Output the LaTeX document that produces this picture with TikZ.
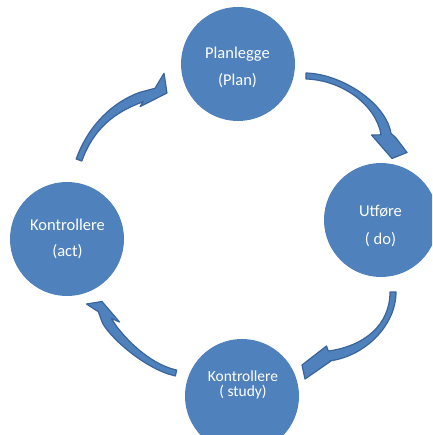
\documentclass[tikz,border=0pt]{standalone}
\usepackage{fontspec}
\setmainfont{Carlito}
\usetikzlibrary{calc}
\definecolor{cblue}{HTML}{4F81BD}
\definecolor{adark}{HTML}{3A649A}
% #1 P0, #2 P1, #3 P2, #4 P3 (centre line of the shaft),
% #5 inner barb, #6 tip, #7 outer barb, #8 outer junction
\newcommand\myblockarrow[8]{%
  \filldraw[arrowbody]
    ($(#1)!3pt!-90:(#2)$) .. controls ($(#2)!3pt!90:(#1)$) and ($(#3)!5pt!-90:(#4)$) ..
    ($(#4)!5pt!90:(#3)$) -- (#5) -- (#6) -- (#7) -- (#8) --
    ($(#4)!5pt!-90:(#3)$) .. controls ($(#3)!5pt!90:(#4)$) and ($(#2)!3pt!-90:(#1)$) ..
    ($(#1)!3pt!90:(#2)$) -- cycle;
}
\begin{document}
\begin{tikzpicture}[x=1pt,y=-1pt,
  circ/.style={circle, fill=cblue, minimum size=114pt, inner sep=0pt},
  txt/.style={text=white, font=\fontsize{16.5}{20}\selectfont, anchor=base, inner sep=0pt},
  smalltxt/.style={txt, font=\fontsize{15.5}{18}\selectfont},
  arrowbody/.style={fill=cblue, draw=adark, line width=1.2pt, line join=round}]
\clip (0,0) rectangle (432,435);
\fill[white] (0,0) rectangle (432,435);
% circles
\node[circ] (plan)  at (238,64)  {};
\node[circ] (do)    at (381,220) {};
\node[circ] (study) at (242,396) {};
\node[circ] (act)   at (67,239)  {};
% texts
\node[txt] (planA)  at (237.5,59)  {Planlegge};
\node[txt] (planB)  at (237.5,86)  {(Plan)};
\node[txt] (doA)    at (380.5,216) {Utføre};
\node[txt] (doB)    at (380.5,244) {( do)};
\node[smalltxt] (studyA) at (243,381.5) {Kontrollere};
\node[smalltxt] (studyB) at (243,396.5) {( study)};
\node[txt] (actA)   at (67.5,230)  {Kontrollere};
\node[txt] (actB)   at (67.5,256)  {(act)};
% curved block arrows
\myblockarrow{306,76}{342,77}{381,104}{386,134}{371.5,135}{392,158.5}{407,152.5}{396,138}
\myblockarrow{393,292}{393,325}{365,351}{329,356}{326.5,346}{302,365}{305,379}{331,361}
\myblockarrow{176,373}{148,367}{117,338}{107,321}{119.5,322}{102,301.5}{86.5,304}{98.3,311.7}
\myblockarrow{79,160}{91,127}{113.4,107.2}{141.6,97}{140,106.7}{167,93}{164,73.3}{155,88.3}
\end{tikzpicture}
\end{document}
